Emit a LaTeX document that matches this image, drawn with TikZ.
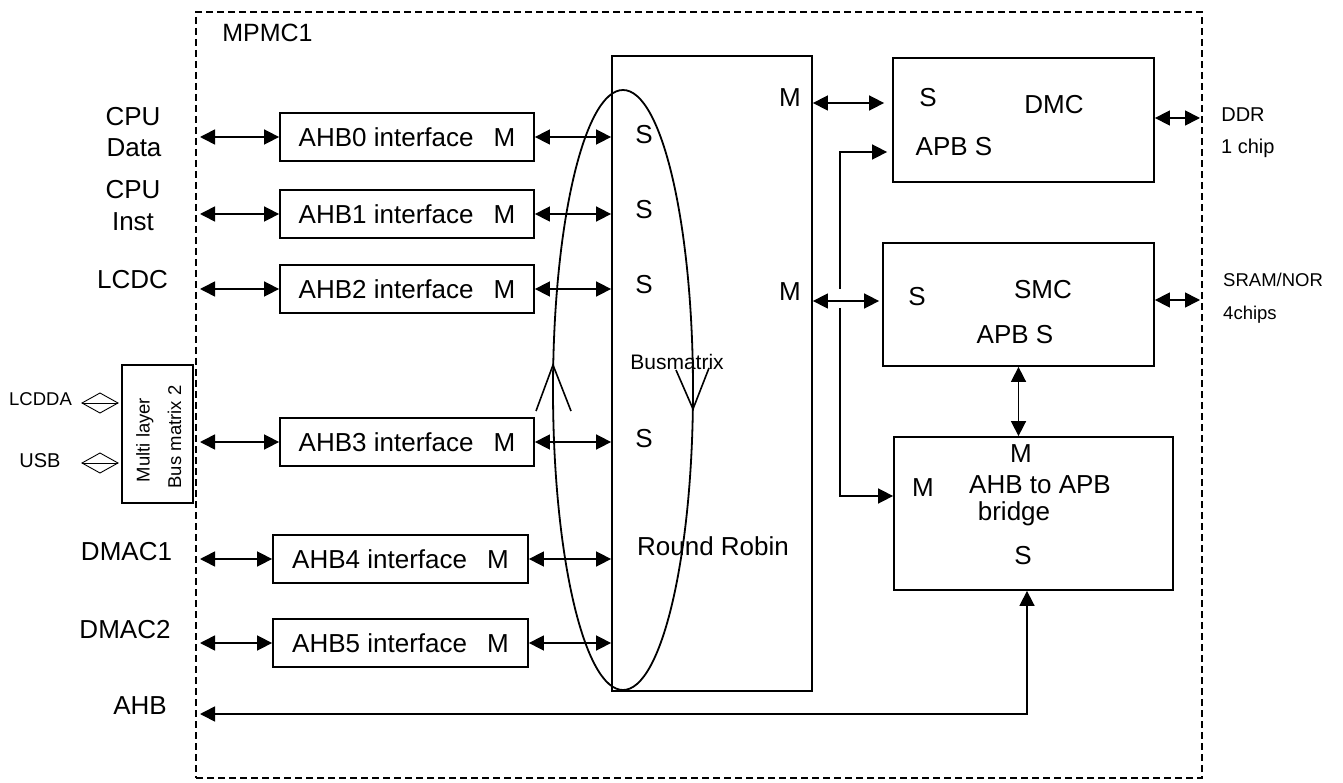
\documentclass[tikz,border=0pt]{standalone}
\usepackage{fontspec}
\setmainfont{Liberation Sans}
\usetikzlibrary{arrows.meta}
\begin{document}
\begin{tikzpicture}[x=1pt,y=-1pt,
  box/.style={draw, line width=1.8pt, rectangle, inner sep=0pt},
  txt/.style={inner sep=0pt, text height=0.72em, text depth=0pt, font=\fontsize{26}{31}\selectfont},
  smalltxt/.style={inner sep=0pt, text height=0.72em, text depth=0pt, font=\fontsize{20}{24}\selectfont},
  tinytxt/.style={inner sep=0pt, text height=0.72em, text depth=0pt, font=\fontsize{18.5}{22}\selectfont},
  ahbbox/.style={box, minimum height=48pt, font=\fontsize{26}{31}\selectfont},
  conn/.style={line width=1.6pt, {Triangle[length=15pt,width=15pt]}-{Triangle[length=15pt,width=15pt]}},
  oneway/.style={line width=1.6pt, -{Triangle[length=15pt,width=15pt]}},
  openconn/.style={line width=0.8pt},
  openhead/.style={line width=0.9pt},
  vtip/.style={line width=1.6pt}
]
\useasboundingbox (0,0) rectangle (1343,783);
\fill[white] (0,0) rectangle (1343,783);

% outer dashed frame
\node[draw, dashed, dash pattern=on 7pt off 4pt, line width=1.5pt, inner sep=0pt,
      minimum width=1006pt, minimum height=766pt] (frame) at (699,395) {};
\node[txt, font=\fontsize{25}{30}\selectfont] (mpmc) at (267.5,38) {MPMC1};

% left labels
\node[txt] (cpu1) at (133,122) {CPU};
\node[txt] (data) at (134,153) {Data};
\node[txt] (cpu2) at (133,195) {CPU};
\node[txt] (inst) at (133,227) {Inst};
\node[txt] (lcdc) at (132.5,285) {LCDC};
\node[txt] (dmac1) at (126.5,557) {DMAC1};
\node[txt] (dmac2) at (125,635) {DMAC2};
\node[txt] (ahb) at (140,711) {AHB};
\node[tinytxt] (lcdda) at (40.5,402) {LCDDA};
\node[tinytxt, font=\fontsize{20}{24}\selectfont] (usb) at (40,464) {USB};

% multi layer bus matrix
\node[box, minimum width=71pt, minimum height=138pt] (multi) at (157.5,434) {};
\node[tinytxt, rotate=90] (ml1) at (146,440) {Multi layer};
\node[tinytxt, rotate=90] (ml2) at (177.5,437) {Bus matrix 2};

% AHB interface boxes
\node[ahbbox, minimum width=254pt] (ahb0) at (407,137) {AHB0 interface\hspace{20pt}M};
\node[ahbbox, minimum width=254pt] (ahb1) at (407,214) {AHB1 interface\hspace{20pt}M};
\node[ahbbox, minimum width=254pt] (ahb2) at (407,289) {AHB2 interface\hspace{20pt}M};
\node[ahbbox, minimum width=254pt] (ahb3) at (407,442) {AHB3 interface\hspace{20pt}M};
\node[ahbbox, minimum width=255pt] (ahb4) at (400.5,559) {AHB4 interface\hspace{20pt}M};
\node[ahbbox, minimum width=255pt] (ahb5) at (400.5,643) {AHB5 interface\hspace{20pt}M};

% busmatrix
\node[box, minimum width=200pt, minimum height=635pt] (bm) at (712,373.5) {};
\node[txt] (s0) at (644,140) {S};
\node[txt] (s1) at (644,215) {S};
\node[txt] (s2) at (644,290) {S};
\node[txt] (s3) at (644,444) {S};
\node[txt] (m0) at (790,103) {M};
\node[txt] (m1) at (790,297) {M};
\node[txt, font=\fontsize{21}{25}\selectfont] (bmlabel) at (677,366) {Busmatrix};
\node[txt] (rr) at (713,552) {Round Robin};
\draw[line width=1.8pt] (623,390) ellipse [x radius=70, y radius=300];
\draw[vtip] (536,411) -- (553,365) -- (571,411);
\draw[vtip] (676,370) -- (693,409) -- (709,368);

% DMC
\node[box, minimum width=261pt, minimum height=124pt] (dmc) at (1023.5,120) {};
\node[txt] (dmcs) at (928,103) {S};
\node[txt] (dmct) at (1054,110) {DMC};
\node[txt] (dmcapb) at (954,152) {APB S};

% SMC
\node[box, minimum width=271pt, minimum height=123pt] (smc) at (1018.5,304.5) {};
\node[txt] (smcs) at (917,302) {S};
\node[txt] (smct) at (1043,295) {SMC};
\node[txt] (smcapb) at (1015,340) {APB S};

% bridge
\node[box, minimum width=279pt, minimum height=153pt] (bridge) at (1033.5,513.5) {};
\node[txt] (brm) at (1021,459) {M};
\node[txt] (brt) at (1040,490) {AHB to APB};
\node[txt] (brb) at (1014,517) {bridge};
\node[txt] (brs) at (1023,561) {S};
\node[txt] (brml) at (923,493) {M};

% external labels
\node[smalltxt] (ddr) at (1243,118) {DDR};
\node[smalltxt, anchor=west] (chip1) at (1221,150) {1 chip};
\node[tinytxt, anchor=west] (sram) at (1223,283) {SRAM/NOR};
\node[tinytxt, anchor=west] (chip4) at (1223,316) {4chips};

% coordinates
\coordinate (e0) at (200,137);
\coordinate (e1) at (200,214);
\coordinate (e2) at (200,289);
\coordinate (e3) at (200,442);
\coordinate (e4) at (200,559);
\coordinate (e5) at (200,643);
\coordinate (ahbl) at (200,714);
\coordinate (ahbc) at (1027,714);
\coordinate (ym0) at (0,103);
\coordinate (ym1) at (0,301);
\coordinate (apbtop) at (840,152);
\coordinate (apbbot) at (840,496);
\coordinate (gap1) at (840,289);
\coordinate (gap2) at (840,308);
\coordinate (ddrend) at (1200,118);
\coordinate (sramend) at (1200,300);
\coordinate (la) at (82,403);
\coordinate (lb) at (118,403);
\coordinate (ua) at (82,463);
\coordinate (ub) at (118,463);

% left connectors
\draw[conn] (e0) -- (ahb0.west);
\draw[conn] (e1) -- (ahb1.west);
\draw[conn] (e2) -- (ahb2.west);
\draw[conn] (e3) -- (ahb3.west);
\draw[conn] (e4) -- (ahb4.west);
\draw[conn] (e5) -- (ahb5.west);
\draw[openconn] (la) -- (lb);
\draw[openhead] (la) -- ++(18,-10) -- (lb) -- ++(-18,10) -- cycle;
\draw[openconn] (ua) -- (ub);
\draw[openhead] (ua) -- ++(18,-10) -- (ub) -- ++(-18,10) -- cycle;

% interface to busmatrix
\draw[conn] (ahb0.east) -- (bm.west |- ahb0.east);
\draw[conn] (ahb1.east) -- (bm.west |- ahb1.east);
\draw[conn] (ahb2.east) -- (bm.west |- ahb2.east);
\draw[conn] (ahb3.east) -- (bm.west |- ahb3.east);
\draw[conn] (ahb4.east) -- (bm.west |- ahb4.east);
\draw[conn] (ahb5.east) -- (bm.west |- ahb5.east);

% busmatrix to controllers
\draw[conn] (bm.east |- ym0) -- ([xshift=-8pt]dmc.west |- ym0);
\draw[conn] (bm.east |- ym1) -- ([xshift=-3pt]smc.west |- ym1);
\draw[oneway] (gap1) -- (apbtop) -- ([xshift=-5pt]dmc.west |- apbtop);
\draw[oneway] (gap2) -- (apbbot) -- (bridge.west |- apbbot);
\draw[conn] (smc.south) -- (bridge.north -| smc.south);

% external
\draw[conn] (dmc.east |- ddrend) -- (ddrend);
\draw[conn] (smc.east |- sramend) -- (sramend);

% AHB return
\draw[conn] (ahbl) -- (ahbc) -- (bridge.south -| ahbc);
\end{tikzpicture}
\end{document}
